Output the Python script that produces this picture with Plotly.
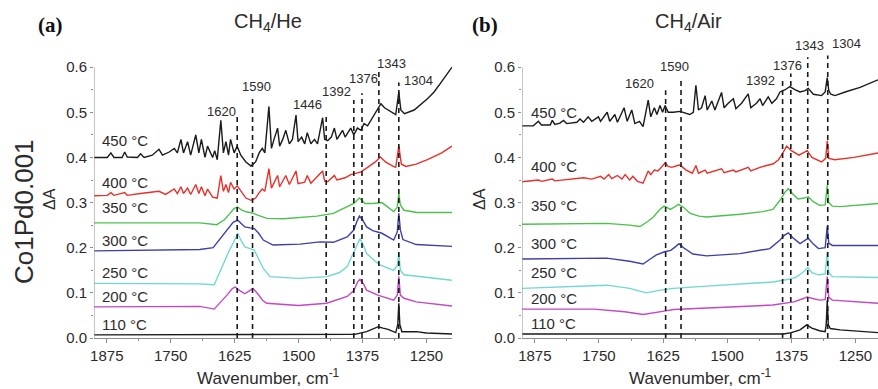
import plotly.graph_objects as go

# ---------------- data (wavenumber cm^-1, absorbance) ----------------
temps = ["450 °C", "400 °C", "350 °C", "300 °C", "250 °C", "200 °C", "110 °C"]
colors = ["#1a1a1a", "#e8302a", "#4cc24c", "#3a40a8", "#6fd8d2", "#c447c4", "#1a1a1a"]

he_450 = [(1900,.40),(1874,.40),(1867,.41),(1861,.40),(1845,.40),(1840,.412),(1835,.401),(1815,.40),(1809,.408),(1802,.40),
          (1786,.405),(1773,.418),(1766,.405),(1753,.412),(1743,.42),(1737,.41),(1730,.44),(1725,.41),(1717,.435),(1711,.405),
          (1701,.45),(1695,.41),(1690,.44),(1683,.40),(1678,.425),(1668,.40),(1664,.415),(1659,.395),(1652,.482),(1647,.41),
          (1642,.435),(1637,.405),(1633,.44),(1626,.41),(1620,.425),(1613,.405),(1603,.39),(1593,.381),(1584,.39),(1577,.41),
          (1571,.42),(1566,.41),(1558,.513),(1553,.42),(1548,.44),(1541,.465),(1537,.425),(1531,.44),(1525,.46),(1518,.43),
          (1512,.44),(1505,.494),(1501,.435),(1494,.445),(1488,.43),(1483,.455),(1476,.43),(1469,.44),(1463,.43),(1453,.488),
          (1449,.44),(1443,.437),(1436,.445),(1430,.465),(1425,.44),(1414,.46),(1409,.445),(1398,.465),(1392,.45),(1385,.465),
          (1378,.46),(1372,.475),(1365,.47),(1355,.49),(1346,.505),(1339,.519),(1332,.51),(1319,.50),(1310,.495),(1304,.545),
          (1300,.505),(1293,.497),(1274,.505),(1248,.53),(1235,.545),(1222,.565),(1209,.585),(1200,.60)]
he_400 = [(1900,.315),(1874,.316),(1867,.322),(1861,.316),(1840,.322),(1835,.316),(1809,.32),(1773,.325),(1760,.318),(1743,.33),
          (1737,.32),(1730,.335),(1725,.32),(1717,.332),(1711,.318),(1701,.34),(1695,.32),(1690,.335),(1683,.315),(1678,.33),
          (1668,.312),(1659,.31),(1652,.36),(1647,.325),(1642,.34),(1637,.322),(1633,.345),(1626,.33),(1620,.337),(1613,.325),
          (1603,.31),(1593,.305),(1584,.31),(1577,.322),(1571,.33),(1566,.325),(1558,.375),(1553,.332),(1541,.36),(1537,.335),
          (1525,.36),(1518,.34),(1505,.37),(1501,.342),(1488,.345),(1483,.36),(1476,.343),(1453,.37),(1449,.348),(1443,.346),
          (1430,.36),(1425,.35),(1409,.355),(1398,.362),(1385,.365),(1378,.368),(1365,.378),(1350,.39),(1340,.401),(1330,.39),
          (1315,.38),(1310,.378),(1304,.425),(1299,.385),(1290,.38),(1270,.385),(1248,.395),(1220,.41),(1200,.425)]
he_350 = [(1900,.255),(1693,.255),(1660,.251),(1645,.262),(1634,.276),(1626,.287),(1619,.29),(1611,.283),(1601,.279),(1590,.277),
          (1580,.272),(1562,.265),(1530,.264),(1464,.270),(1432,.276),(1405,.29),(1392,.298),(1381,.31),(1370,.298),(1355,.298),
          (1337,.30),(1314,.28),(1307,.29),(1304,.32),(1301,.295),(1294,.283),(1268,.278),(1200,.278)]
he_300 = [(1900,.193),(1693,.196),(1667,.2),(1650,.225),(1640,.239),(1628,.256),(1619,.261),(1612,.254),(1605,.246),(1595,.244),
          (1587,.243),(1578,.232),(1569,.217),(1550,.206),(1497,.208),(1458,.213),(1432,.212),(1405,.224),(1392,.239),(1386,.258),
          (1381,.27),(1375,.262),(1367,.246),(1355,.238),(1337,.232),(1314,.217),(1307,.235),(1304,.276),(1301,.24),(1296,.218),
          (1270,.207),(1200,.203)]
he_250 = [(1900,.121),(1693,.120),(1665,.118),(1647,.165),(1635,.195),(1627,.212),(1619,.232),(1612,.215),(1605,.202),(1595,.198),
          (1587,.195),(1578,.175),(1569,.154),(1556,.136),(1500,.132),(1445,.136),(1420,.145),(1405,.158),(1392,.191),(1385,.21),
          (1380,.22),(1373,.205),(1367,.187),(1350,.17),(1341,.162),(1314,.150),(1307,.16),(1304,.189),(1301,.15),(1294,.140),
          (1200,.128)]
he_200 = [(1900,.069),(1693,.07),(1665,.064),(1650,.082),(1640,.095),(1630,.109),(1624,.113),(1615,.105),(1605,.098),(1597,.104),
          (1589,.11),(1580,.098),(1570,.083),(1562,.077),(1500,.072),(1445,.077),(1405,.092),(1392,.105),(1384,.125),(1380,.13),
          (1373,.12),(1367,.106),(1345,.095),(1314,.084),(1307,.095),(1304,.136),(1301,.095),(1294,.088),(1270,.08),(1200,.071)]
he_110 = [(1900,.007),(1420,.007),(1390,.008),(1367,.014),(1355,.02),(1344,.025),(1335,.022),(1325,.019),(1310,.012),(1306,.03),
          (1304,.077),(1302,.03),(1298,.014),(1270,.014),(1250,.011),(1200,.009)]

air_450 = [(1900,.47),(1878,.47),(1868,.48),(1862,.472),(1845,.472),(1841,.482),(1836,.473),(1826,.476),(1819,.482),(1813,.475),
           (1793,.478),(1787,.485),(1780,.478),(1771,.49),(1764,.48),(1751,.49),(1747,.48),(1734,.50),(1729,.48),(1719,.495),
           (1714,.478),(1701,.51),(1695,.48),(1686,.505),(1680,.475),(1671,.48),(1664,.468),(1654,.527),(1649,.49),(1642,.51),
           (1637,.495),(1631,.515),(1626,.50),(1621,.515),(1615,.50),(1605,.50),(1592,.502),(1582,.498),(1573,.495),(1566,.50),
           (1561,.56),(1556,.505),(1550,.51),(1543,.537),(1539,.505),(1530,.525),(1524,.505),(1511,.544),(1506,.51),(1498,.52),
           (1488,.53),(1483,.508),(1472,.52),(1459,.541),(1454,.51),(1443,.52),(1436,.53),(1431,.515),(1420,.534),(1413,.52),
           (1404,.53),(1397,.545),(1387,.55),(1378,.557),(1368,.55),(1358,.545),(1348,.548),(1342,.553),(1332,.54),(1316,.537),
           (1309,.545),(1305,.577),(1302,.548),(1298,.54),(1290,.537),(1270,.545),(1241,.555),(1206,.572)]
air_400 = [(1900,.346),(1868,.35),(1862,.347),(1841,.352),(1836,.348),(1800,.352),(1780,.355),(1764,.352),(1747,.358),(1740,.352),
           (1731,.362),(1725,.353),(1714,.36),(1705,.352),(1699,.362),(1690,.35),(1684,.358),(1675,.347),(1664,.343),(1654,.37),
           (1649,.362),(1642,.372),(1635,.37),(1627,.38),(1621,.388),(1615,.38),(1608,.378),(1597,.382),(1592,.383),(1580,.372),
           (1568,.365),(1561,.382),(1556,.365),(1543,.372),(1539,.365),(1511,.375),(1506,.366),(1488,.372),(1483,.368),(1459,.378),
           (1454,.37),(1436,.378),(1420,.382),(1410,.386),(1400,.395),(1394,.405),(1384,.425),(1375,.415),(1360,.405),(1344,.415),
           (1335,.40),(1316,.39),(1308,.398),(1305,.437),(1302,.398),(1290,.395),(1253,.40),(1206,.41)]
air_350 = [(1900,.252),(1735,.254),(1690,.25),(1670,.247),(1655,.258),(1644,.268),(1630,.286),(1623,.292),(1616,.288),(1611,.285),
           (1603,.29),(1595,.296),(1586,.29),(1572,.276),(1555,.27),(1540,.268),(1475,.274),(1430,.28),(1411,.285),(1397,.305),
           (1388,.322),(1381,.331),(1373,.32),(1362,.308),(1350,.31),(1342,.313),(1332,.302),(1320,.294),(1309,.295),(1305,.338),
           (1302,.30),(1295,.292),(1280,.291),(1206,.298)]
air_300 = [(1900,.175),(1735,.177),(1690,.17),(1664,.164),(1650,.175),(1638,.184),(1622,.191),(1610,.194),(1600,.203),(1594,.209),
           (1585,.20),(1567,.186),(1540,.182),(1475,.187),(1417,.198),(1397,.217),(1388,.228),(1381,.233),(1372,.222),(1358,.209),
           (1342,.221),(1332,.208),(1322,.198),(1309,.20),(1305,.248),(1302,.21),(1295,.205),(1206,.205)]
air_250 = [(1900,.11),(1735,.117),(1690,.11),(1658,.10),(1630,.106),(1605,.11),(1540,.115),(1411,.124),(1380,.13),(1365,.135),
           (1350,.148),(1343,.156),(1335,.145),(1322,.14),(1309,.142),(1305,.191),(1302,.145),(1295,.136),(1206,.134)]
air_200 = [(1900,.064),(1760,.064),(1700,.058),(1664,.052),(1620,.06),(1605,.063),(1411,.073),(1370,.08),(1350,.088),(1345,.091),
           (1335,.088),(1320,.084),(1309,.085),(1305,.136),(1302,.09),(1295,.084),(1206,.077)]
air_110 = [(1900,.009),(1390,.009),(1375,.012),(1358,.018),(1345,.029),(1335,.022),(1320,.016),(1309,.014),(1307,.03),(1305,.083),
           (1303,.03),(1299,.021),(1280,.018),(1206,.012)]

he_series = [he_450, he_400, he_350, he_300, he_250, he_200, he_110]
air_series = [air_450, air_400, air_350, air_300, air_250, air_200, air_110]

# temperature label y-positions (absorbance units)
he_label_y = [0.438, 0.345, 0.290, 0.217, 0.146, 0.091, 0.031]
air_label_y = [0.500, 0.381, 0.294, 0.210, 0.144, 0.088, 0.033]

# peak markers: wavenumber, top of dashed line, label x, label y
he_peaks = [1620, 1590, 1446, 1392, 1376, 1343, 1304]
he_peak_top = [0.493, 0.533, 0.493, 0.527, 0.542, 0.600, 0.566]
he_peak_lx = [1651, 1583, 1483, 1426, 1374, 1319, 1266]
he_peak_ly = [0.502, 0.558, 0.518, 0.546, 0.575, 0.608, 0.571]

air_peaks = [1620, 1590, 1392, 1376, 1343, 1304]
air_peak_top = [0.549, 0.571, 0.575, 0.586, 0.622, 0.626]
air_peak_lx = [1670, 1602, 1436, 1383, 1339, 1268]
air_peak_ly = [0.564, 0.602, 0.571, 0.604, 0.648, 0.653]

xticks = [1875, 1750, 1625, 1500, 1375, 1250]
yticks = [0.0, 0.1, 0.2, 0.3, 0.4, 0.5, 0.6]

# ---------------- figure ----------------
W, H = 878, 389
FONT = "Liberation Sans, Arial, sans-serif"
AXC = "#8c8c8c"
TXT = "#2b2b2b"

fig = go.Figure()

panels = [
    dict(series=he_series, xa="x", ya="y", label_y=he_label_y, lab_x=1888,
         peaks=he_peaks, top=he_peak_top, lx=he_peak_lx, ly=he_peak_ly),
    dict(series=air_series, xa="x2", ya="y2", label_y=air_label_y, lab_x=1886,
         peaks=air_peaks, top=air_peak_top, lx=air_peak_lx, ly=air_peak_ly),
]

shapes = []
annotations = []
for p in panels:
    for name, pts, col in zip(temps, p["series"], colors):
        xs = [a for a, b in pts]
        ys = [b for a, b in pts]
        fig.add_trace(go.Scatter(x=xs, y=ys, mode="lines", name=name,
                                 line=dict(color=col, width=1.4),
                                 xaxis=p["xa"], yaxis=p["ya"], showlegend=False))
    for name, yy in zip(temps, p["label_y"]):
        annotations.append(dict(x=p["lab_x"], y=yy, xref=p["xa"], yref=p["ya"], text=name,
                                showarrow=False, xanchor="left", yanchor="middle",
                                font=dict(family=FONT, size=15, color=TXT)))
    for wn, top, lx, ly in zip(p["peaks"], p["top"], p["lx"], p["ly"]):
        shapes.append(dict(type="line", xref=p["xa"], yref=p["ya"], x0=wn, x1=wn, y0=0, y1=top,
                           line=dict(color="#1a1a1a", width=1.6, dash="5px,4px")))
        annotations.append(dict(x=lx, y=ly, xref=p["xa"], yref=p["ya"], text=str(wn),
                                showarrow=False, xanchor="center", yanchor="middle",
                                font=dict(family=FONT, size=13, color=TXT)))
    # y axis line from 0 to 0.6
    shapes.append(dict(type="line", xref=p["xa"], yref=p["ya"], x0=1900, x1=1900, y0=0, y1=0.6,
                       line=dict(color=AXC, width=1)))

y_dom = [(H - 338) / H, (H - 22) / H]
xaxis_common = dict(autorange=False, showline=True, linecolor=AXC, linewidth=1, showgrid=False,
                    zeroline=False, tickvals=xticks, ticks="outside", ticklen=4, tickcolor=AXC,
                    tickfont=dict(family=FONT, size=15, color=TXT), automargin=False,
                    minor=dict(tickvals=[1812.5, 1687.5, 1562.5, 1437.5, 1312.5], ticks="outside",
                               ticklen=2, tickcolor=AXC))
yaxis_common = dict(range=[0, 0.7], autorange=False, showline=False, showgrid=False, zeroline=False,
                    tickvals=yticks, ticktext=[f"{v:.1f}" for v in yticks], ticks="outside",
                    ticklen=3, tickcolor=AXC, tickfont=dict(family=FONT, size=15, color=TXT),
                    automargin=False, domain=y_dom,
                    minor=dict(tickvals=[0.05, 0.15, 0.25, 0.35, 0.45, 0.55], ticks="outside",
                               ticklen=2, tickcolor=AXC))

fig.update_layout(
    width=W, height=H, margin=dict(l=0, r=0, t=0, b=0),
    paper_bgcolor="white", plot_bgcolor="rgba(0,0,0,0)",
    xaxis=dict(xaxis_common, range=[1900, 1200], domain=[94 / W, 452 / W], anchor="y"),
    yaxis=dict(yaxis_common, anchor="x"),
    xaxis2=dict(xaxis_common, range=[1900, 1900 - 356 / 0.513], domain=[522 / W, 1.0], anchor="y2"),
    yaxis2=dict(yaxis_common, anchor="x2"),
    shapes=shapes,
)

def pxx(px):
    return px / W

def pxy(py):
    return (H - py) / H

extra = [
    dict(x=pxx(50), y=pxy(25), text="<b>(a)</b>", font=dict(family="Liberation Serif, Times New Roman, serif", size=21, color="#111")),
    dict(x=pxx(485), y=pxy(25), text="<b>(b)</b>", font=dict(family="Liberation Serif, Times New Roman, serif", size=21, color="#111")),
    dict(x=pxx(268), y=pxy(22), text="CH<sub>4</sub>/He", font=dict(family=FONT, size=20, color=TXT)),
    dict(x=pxx(688), y=pxy(22), text="CH<sub>4</sub>/Air", font=dict(family=FONT, size=20, color=TXT)),
    dict(x=pxx(268), y=pxy(377), text="Wavenumber, cm<sup>-1</sup>", font=dict(family=FONT, size=17, color=TXT)),
    dict(x=pxx(700), y=pxy(377), text="Wavenumber, cm<sup>-1</sup>", font=dict(family=FONT, size=17, color=TXT)),
    dict(x=pxx(49), y=pxy(199), text="ΔA", textangle=-90, font=dict(family=FONT, size=16, color=TXT)),
    dict(x=pxx(479), y=pxy(199), text="ΔA", textangle=-90, font=dict(family=FONT, size=16, color=TXT)),
    dict(x=pxx(24), y=pxy(212), text="Co1Pd0.001", textangle=-90, font=dict(family=FONT, size=26, color=TXT)),
]
for a in extra:
    a.update(xref="paper", yref="paper", showarrow=False, xanchor="center", yanchor="middle")
    annotations.append(a)

fig.update_layout(annotations=annotations)

fig.write_html("out.html", config={"displayModeBar": False},
               post_script="document.body.style.margin='0px';document.body.style.overflow='hidden';")
